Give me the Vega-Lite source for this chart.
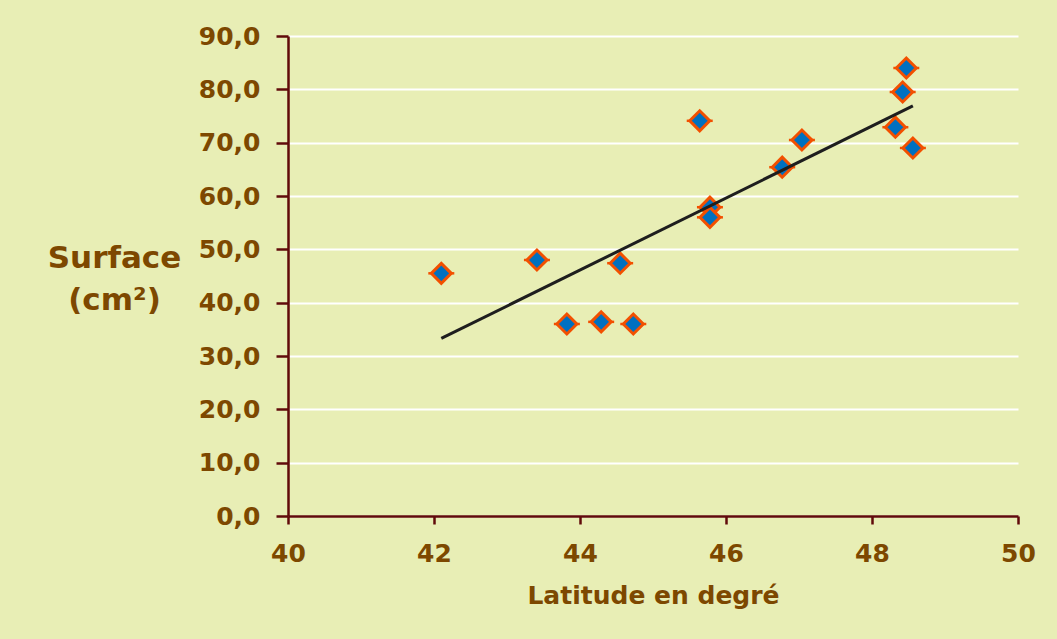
{
  "$schema": "https://vega.github.io/schema/vega-lite/v6.json",
  "autosize": "none",
  "width": 730,
  "height": 480,
  "padding": {"left": 288, "top": 36, "right": 39, "bottom": 123},
  "background": "#E8EEB5",
  "config": {
    "view": {"stroke": null},
    "font": "DejaVu Sans"
  },
  "data": {
    "values": [
      {"latitude": 42.10, "surface": 45.5},
      {"latitude": 43.41, "surface": 48.0},
      {"latitude": 43.82, "surface": 36.0},
      {"latitude": 44.29, "surface": 36.4},
      {"latitude": 44.55, "surface": 47.4},
      {"latitude": 44.73, "surface": 36.0},
      {"latitude": 45.64, "surface": 74.1},
      {"latitude": 45.78, "surface": 57.9},
      {"latitude": 45.78, "surface": 56.0},
      {"latitude": 46.77, "surface": 65.4},
      {"latitude": 47.04, "surface": 70.5},
      {"latitude": 48.32, "surface": 72.9},
      {"latitude": 48.42, "surface": 79.5},
      {"latitude": 48.47, "surface": 84.0},
      {"latitude": 48.56, "surface": 69.0}
    ]
  },
  "encoding": {
    "x": {
      "field": "latitude",
      "type": "quantitative",
      "scale": {"domain": [40, 50], "nice": false, "zero": false},
      "axis": {
        "title": "Latitude en degré",
        "values": [40, 42, 44, 46, 48, 50],
        "grid": false,
        "domainColor": "#600A0A",
        "domainWidth": 2.5,
        "tickColor": "#600A0A",
        "tickWidth": 2.5,
        "tickSize": 8,
        "labelFont": "DejaVu Sans",
        "labelFontWeight": "bold",
        "labelFontSize": 25,
        "labelColor": "#7D4800",
        "labelPadding": 17,
        "labelFlush": false,
        "titleFont": "DejaVu Sans",
        "titleFontWeight": "bold",
        "titleFontSize": 25,
        "titleColor": "#7D4800",
        "titleBaseline": "alphabetic",
        "titleY": 87
      }
    },
    "y": {
      "field": "surface",
      "type": "quantitative",
      "scale": {"domain": [0, 90], "nice": false},
      "axis": {
        "title": ["Surface", "(cm²)"],
        "values": [0, 10, 20, 30, 40, 50, 60, 70, 80, 90],
        "labelExpr": "replace(format(datum.value, '.1f'), '.', ',')",
        "grid": true,
        "gridColor": "#FFFFFF",
        "gridWidth": 2,
        "domainColor": "#600A0A",
        "domainWidth": 2.5,
        "tickColor": "#600A0A",
        "tickWidth": 2.5,
        "tickSize": 12,
        "labelFont": "DejaVu Sans",
        "labelFontWeight": "bold",
        "labelFontSize": 25,
        "labelColor": "#7D4800",
        "labelPadding": 16,
        "titleFont": "DejaVu Sans",
        "titleFontWeight": "bold",
        "titleFontSize": 31,
        "titleColor": "#7D4800",
        "titleAngle": 0,
        "titleAlign": "center",
        "titleBaseline": "alphabetic",
        "titleLineHeight": 42,
        "titleX": -174,
        "titleY": 231
      }
    }
  },
  "layer": [
    {
      "mark": {"type": "tick", "orient": "horizontal", "size": 26, "thickness": 2.5, "color": "#F25000", "opacity": 1}
    },
    {
      "mark": {"type": "point", "shape": "diamond", "size": 400, "filled": true, "fill": "#0070C0", "stroke": "#F25000", "strokeWidth": 3, "opacity": 1}
    },
    {
      "transform": [{"regression": "surface", "on": "latitude"}],
      "mark": {"type": "line", "color": "#1E1E1E", "strokeWidth": 3}
    }
  ]
}
